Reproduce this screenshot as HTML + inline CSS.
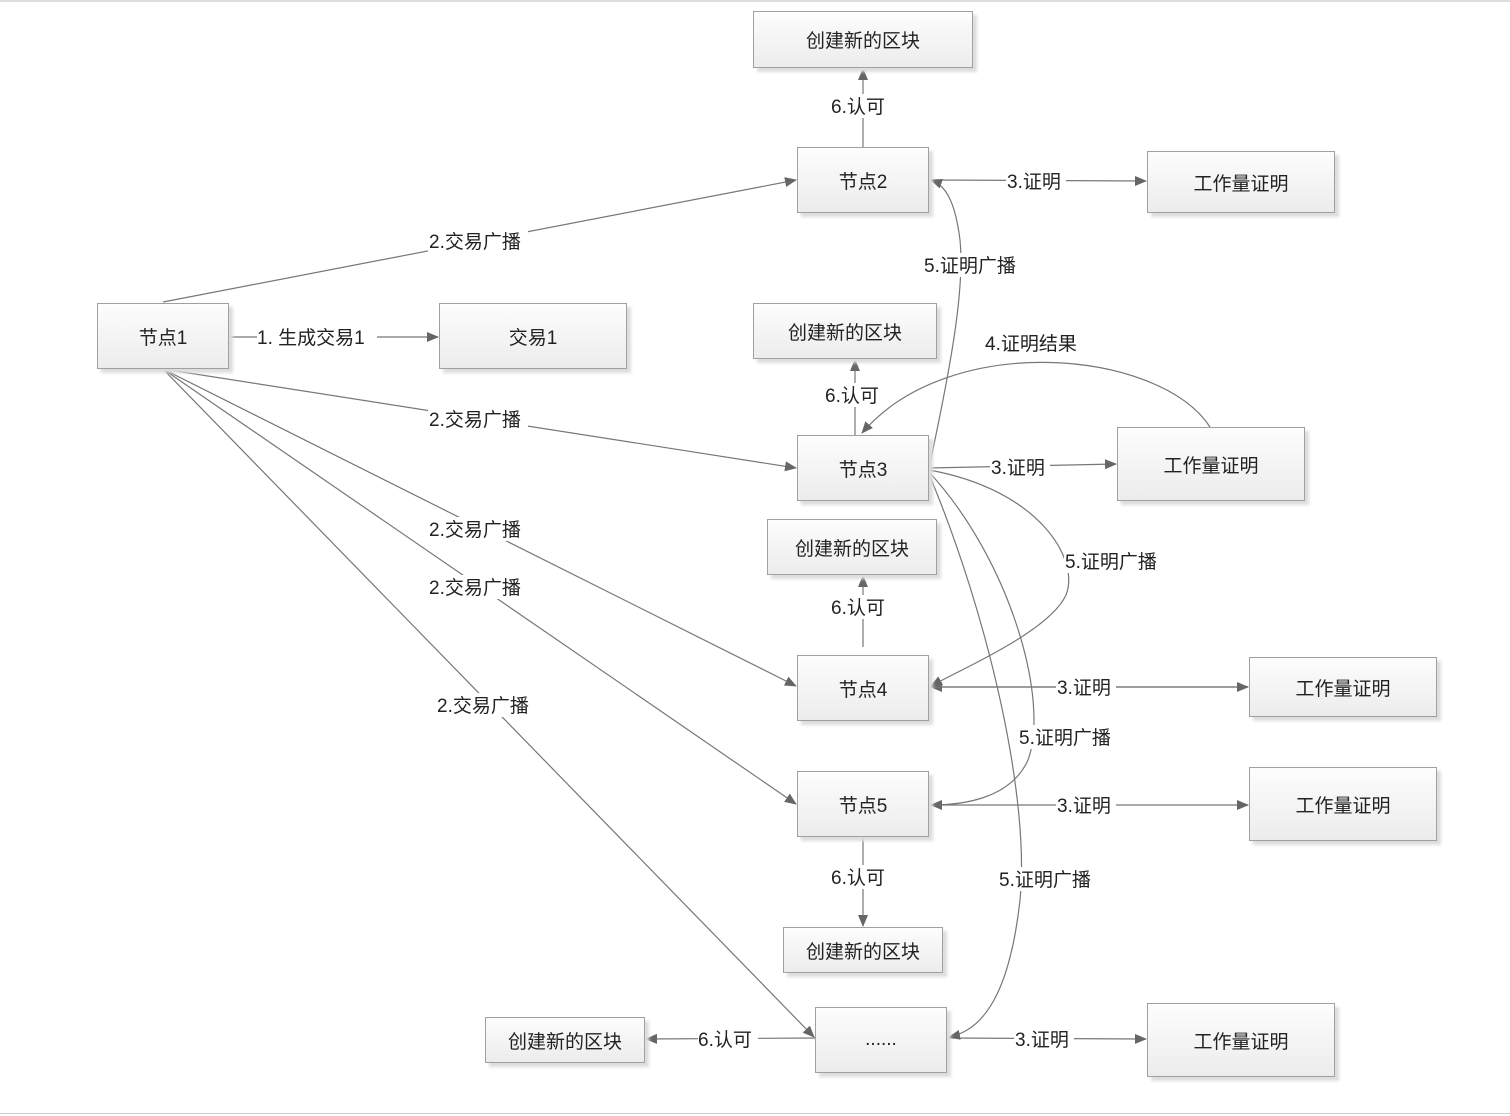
<!DOCTYPE html>
<html><head><meta charset="utf-8"><style>
body{margin:0;width:1510px;height:1116px;background:#fff;position:relative;overflow:hidden;font-family:"Liberation Sans","Noto Sans CJK SC",sans-serif;}
.b{position:absolute;box-sizing:border-box;border:1.5px solid #a0a0a0;background:linear-gradient(#fdfdfd,#ececec);box-shadow:4px 4px 3px #ddd;display:flex;align-items:center;justify-content:center;font-size:19px;color:#222;}
svg{position:absolute;left:0;top:0}
svg text{font-family:"Liberation Sans","Noto Sans CJK SC",sans-serif;font-size:19px;fill:#222;}
</style></head><body>
<div style="position:absolute;left:0;top:0;width:1510px;height:2px;background:#ddd"></div>
<div style="position:absolute;left:0;top:1113px;width:1510px;height:1px;background:#ccc"></div>
<svg width="1510" height="1116">
<defs><marker id="a" markerWidth="12" markerHeight="12" refX="11" refY="6" orient="auto" markerUnits="userSpaceOnUse"><path d="M0,1 L12,6 L0,11 Z" fill="#666"/></marker></defs>
<g stroke="#777" stroke-width="1.2" fill="none">
<line x1="863" y1="147" x2="863" y2="69" marker-end="url(#a)"/>
<line x1="929" y1="180" x2="1146" y2="181" marker-end="url(#a)"/>
<line x1="929" y1="180" x2="931" y2="180" marker-end="url(#a)"/>
<line x1="163" y1="302" x2="796" y2="180" marker-end="url(#a)"/>
<line x1="229" y1="337" x2="438" y2="337" marker-end="url(#a)"/>
<line x1="163" y1="369" x2="796" y2="468" marker-end="url(#a)"/>
<line x1="163" y1="369" x2="796" y2="686" marker-end="url(#a)"/>
<line x1="163" y1="369" x2="796" y2="804" marker-end="url(#a)"/>
<line x1="163" y1="369" x2="814" y2="1037" marker-end="url(#a)"/>
<line x1="855" y1="435" x2="855" y2="360" marker-end="url(#a)"/>
<line x1="929" y1="468" x2="1116" y2="464" marker-end="url(#a)"/>
<line x1="863" y1="647" x2="863" y2="576" marker-end="url(#a)"/>
<line x1="1248" y1="687" x2="931" y2="687" marker-end="url(#a)"/>
<line x1="929" y1="687" x2="1248" y2="687" marker-end="url(#a)"/>
<line x1="929" y1="805" x2="1248" y2="805" marker-end="url(#a)"/>
<line x1="863" y1="837" x2="863" y2="926" marker-end="url(#a)"/>
<line x1="815" y1="1038" x2="646" y2="1039" marker-end="url(#a)"/>
<line x1="947" y1="1038" x2="1146" y2="1039" marker-end="url(#a)"/>
<path d="M929,468 C950,370 965,290 960,240 C955,200 945,185 931,180" marker-end="url(#a)"/>
<path d="M1210,427 C1160,350 950,330 862,433" marker-end="url(#a)"/>
<path d="M929,470 C1040,490 1080,560 1066,595 C1050,630 970,665 931,686" marker-end="url(#a)"/>
<path d="M929,472 C1010,560 1050,700 1028,760 C1010,800 960,805 931,805" marker-end="url(#a)"/>
<path d="M929,474 C990,620 1030,800 1020,900 C1010,990 985,1030 949,1037" marker-end="url(#a)"/>
</g>
<g>
<rect x="832" y="94" width="60" height="24" fill="#fff"/><text x="831" y="113">6.认可</text>
<rect x="1006" y="169" width="60" height="24" fill="#fff"/><text x="1007" y="188">3.证明</text>
<rect x="428" y="229" width="100" height="24" fill="#fff"/><text x="429" y="248">2.交易广播</text>
<rect x="923" y="253" width="100" height="24" fill="#fff"/><text x="924" y="272">5.证明广播</text>
<rect x="257" y="325" width="120" height="24" fill="#fff"/><text x="257" y="344">1. 生成交易1</text>
<rect x="985" y="331" width="100" height="24" fill="#fff"/><text x="985" y="350">4.证明结果</text>
<rect x="825" y="383" width="60" height="24" fill="#fff"/><text x="825" y="402">6.认可</text>
<rect x="428" y="407" width="100" height="24" fill="#fff"/><text x="429" y="426">2.交易广播</text>
<rect x="990" y="455" width="60" height="24" fill="#fff"/><text x="991" y="474">3.证明</text>
<rect x="428" y="517" width="100" height="24" fill="#fff"/><text x="429" y="536">2.交易广播</text>
<rect x="1064" y="549" width="100" height="24" fill="#fff"/><text x="1065" y="568">5.证明广播</text>
<rect x="428" y="575" width="100" height="24" fill="#fff"/><text x="429" y="594">2.交易广播</text>
<rect x="832" y="595" width="60" height="24" fill="#fff"/><text x="831" y="614">6.认可</text>
<rect x="1056" y="675" width="60" height="24" fill="#fff"/><text x="1057" y="694">3.证明</text>
<rect x="436" y="693" width="100" height="24" fill="#fff"/><text x="437" y="712">2.交易广播</text>
<rect x="1018" y="725" width="100" height="24" fill="#fff"/><text x="1019" y="744">5.证明广播</text>
<rect x="1056" y="793" width="60" height="24" fill="#fff"/><text x="1057" y="812">3.证明</text>
<rect x="832" y="865" width="60" height="24" fill="#fff"/><text x="831" y="884">6.认可</text>
<rect x="998" y="867" width="100" height="24" fill="#fff"/><text x="999" y="886">5.证明广播</text>
<rect x="698" y="1027" width="60" height="24" fill="#fff"/><text x="698" y="1046">6.认可</text>
<rect x="1014" y="1027" width="60" height="24" fill="#fff"/><text x="1015" y="1046">3.证明</text>
</g>
</svg>
<div class="b" style="left:753px;top:11px;width:220px;height:57px">创建新的区块</div>
<div class="b" style="left:797px;top:147px;width:132px;height:66px">节点2</div>
<div class="b" style="left:1147px;top:151px;width:188px;height:62px">工作量证明</div>
<div class="b" style="left:97px;top:303px;width:132px;height:66px">节点1</div>
<div class="b" style="left:439px;top:303px;width:188px;height:66px">交易1</div>
<div class="b" style="left:753px;top:303px;width:184px;height:56px">创建新的区块</div>
<div class="b" style="left:797px;top:435px;width:132px;height:66px">节点3</div>
<div class="b" style="left:1117px;top:427px;width:188px;height:74px">工作量证明</div>
<div class="b" style="left:767px;top:519px;width:170px;height:56px">创建新的区块</div>
<div class="b" style="left:797px;top:655px;width:132px;height:66px">节点4</div>
<div class="b" style="left:1249px;top:657px;width:188px;height:60px">工作量证明</div>
<div class="b" style="left:797px;top:771px;width:132px;height:66px">节点5</div>
<div class="b" style="left:1249px;top:767px;width:188px;height:74px">工作量证明</div>
<div class="b" style="left:783px;top:927px;width:160px;height:46px">创建新的区块</div>
<div class="b" style="left:815px;top:1007px;width:132px;height:66px">......</div>
<div class="b" style="left:1147px;top:1003px;width:188px;height:74px">工作量证明</div>
<div class="b" style="left:485px;top:1017px;width:160px;height:46px">创建新的区块</div>
</body></html>
